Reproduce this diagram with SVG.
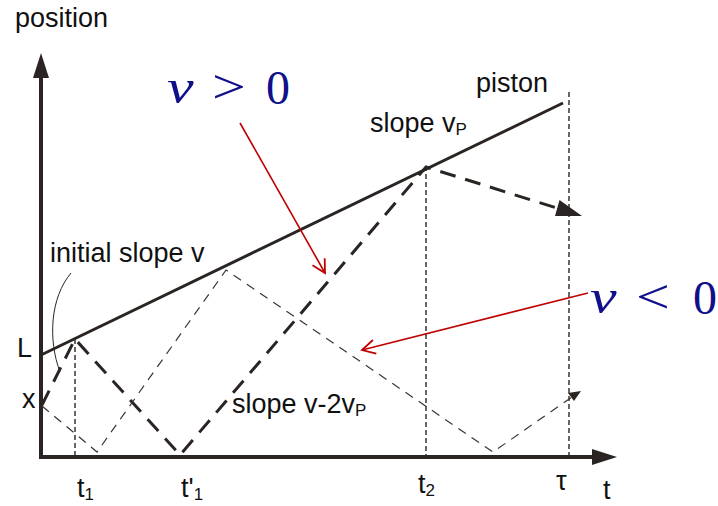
<svg xmlns="http://www.w3.org/2000/svg" width="718" height="506" viewBox="0 0 718 506">
<style>
.lbl{font-family:"Liberation Sans",Arial,sans-serif;font-size:27px;fill:#111}
.sub{font-size:17px}
.math{font-family:"Liberation Serif","Times New Roman",serif;font-size:48px;fill:#10108a}
.ax{stroke:#2a2522;stroke-width:4;fill:none}
.vdash{stroke:#2a2522;stroke-width:1.4;fill:none;stroke-dasharray:5 3}
.thick{stroke:#2a2522;stroke-width:3;fill:none;stroke-dasharray:16 10}
.thin{stroke:#3a3535;stroke-width:1.2;fill:none;stroke-dasharray:9 7}
.red{stroke:#c00000;stroke-width:1.6;fill:none}
</style>
<defs>
<marker id="redhead" viewBox="0 0 16 16" refX="14" refY="8" markerWidth="16" markerHeight="16" markerUnits="userSpaceOnUse" orient="auto">
<path d="M1,1 L14,8 L1,15" fill="none" stroke="#c00000" stroke-width="1.8"/>
</marker>
</defs>
<rect width="718" height="506" fill="#fff"/>
<g id="axes">
<line class="ax" x1="41" y1="459" x2="41" y2="76"/>
<polygon points="41,53 33,78 49,78" fill="#2a2522"/>
<line class="ax" x1="39" y1="457" x2="594" y2="457"/>
<polygon points="617,457 592,449 592,465" fill="#2a2522"/>
</g>
<g id="piston">
<line x1="41" y1="355" x2="563" y2="103" stroke="#2a2522" stroke-width="3"/>
</g>
<g id="guides">
<line class="vdash" x1="75" y1="339" x2="75" y2="456"/>
<line class="vdash" x1="426" y1="166" x2="426" y2="456"/>
<line class="vdash" x1="569" y1="92" x2="569" y2="456"/>
</g>
<g id="connectors">
<path class="thick" d="M42,405 L75,339 L180,455 L426,167 L560,209"/>
<polygon points="582,216 559.5,200 555,216" fill="#2a2522"/>
<path class="thin" d="M42,406 L97,452 L226,270 L493,452 L572,397"/>
<polygon points="581,391 568,393 574,401" fill="#2a2522"/>
<path d="M71,273 C50,298 48,340 60,372" fill="none" stroke="#2a2522" stroke-width="1"/>
<line class="red" x1="240" y1="123" x2="325" y2="273" marker-end="url(#redhead)"/>
<line class="red" x1="588" y1="293" x2="362" y2="350" marker-end="url(#redhead)"/>
</g>
<g id="labels">
<text class="lbl" x="15" y="27">position</text>
<text class="lbl" x="476" y="92">piston</text>
<text class="lbl" x="370" y="132">slope v<tspan class="sub" dy="3">P</tspan></text>
<text class="lbl" x="50" y="262">initial slope v</text>
<text class="lbl" x="232" y="413">slope v-2v<tspan class="sub" dy="3">P</tspan></text>
<text class="lbl" x="17" y="357">L</text>
<text class="lbl" x="22" y="408">x</text>
<text class="lbl" x="77" y="497">t<tspan class="sub" dy="3">1</tspan></text>
<text class="lbl" x="181" y="497">t'<tspan class="sub" dy="3">1</tspan></text>
<text class="lbl" x="418" y="493">t<tspan class="sub" dy="3">2</tspan></text>
<text class="lbl" x="556" y="490">τ</text>
<text class="lbl" x="603" y="499">t</text>
</g>
<g id="math">
<text class="math" font-style="italic" transform="translate(167,103) scale(1.25,1)">v</text>
<text class="math" transform="translate(212,103) scale(1.25,1)">&gt;</text>
<text class="math" x="266" y="104">0</text>
<text class="math" font-style="italic" transform="translate(590,313) scale(1.25,1)">v</text>
<text class="math" transform="translate(636,313) scale(1.25,1)">&lt;</text>
<text class="math" x="693" y="314">0</text>
</g>
</svg>
